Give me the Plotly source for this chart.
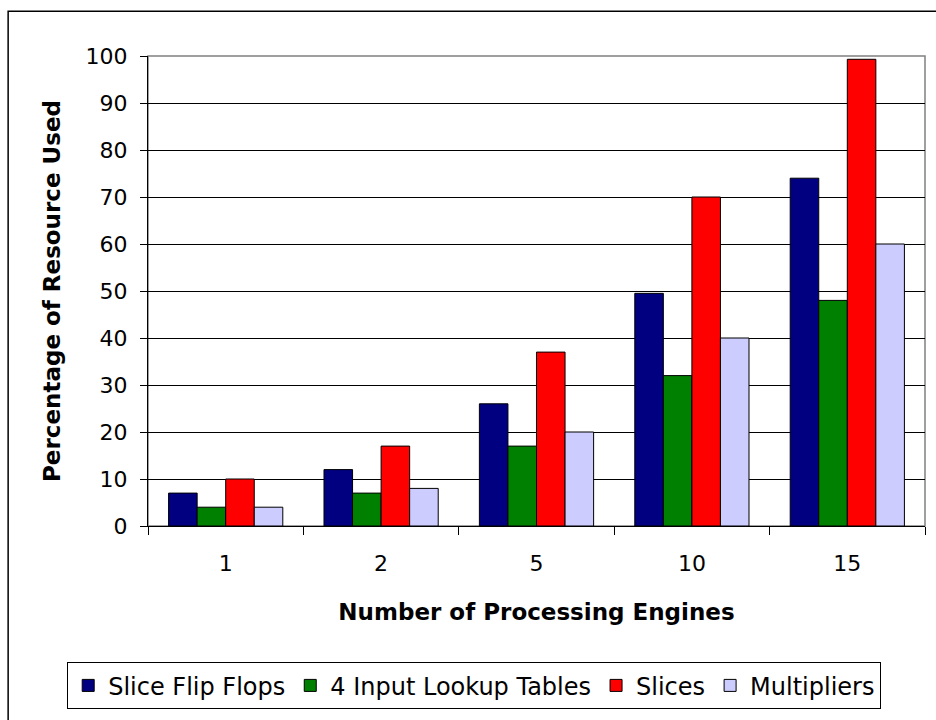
import plotly.graph_objects as go

# Number of processing engines (categories on the x axis)
engines = ["1", "2", "5", "10", "15"]

# Percentage of each FPGA resource used
slice_flip_flops = [7, 12, 26, 49.5, 74]
lookup_tables = [4, 7, 17, 32, 48]
slices = [10, 17, 37, 70, 99.3]
multipliers = [4, 8, 20, 40, 60]

y_ticks = list(range(0, 101, 10))

series = [
    ("Slice Flip Flops", slice_flip_flops, "#000080"),
    ("4 Input Lookup Tables", lookup_tables, "#008000"),
    ("Slices", slices, "#FF0000"),
    ("Multipliers", multipliers, "#CCCCFF"),
]

FONT = "DejaVu Sans"

fig = go.Figure()
for name, vals, color in series:
    fig.add_trace(go.Bar(
        name=name,
        x=engines,
        y=vals,
        marker=dict(color=color, line=dict(color="#000000", width=1)),
    ))

fig.update_layout(
    width=936,
    height=720,
    barmode="group",
    bargap=0.265,
    bargroupgap=0,
    paper_bgcolor="white",
    plot_bgcolor="white",
    margin=dict(l=148, r=11, t=56, b=192),
    font=dict(family=FONT, size=21, color="#000000"),
    showlegend=True,
    legend=dict(
        orientation="h",
        x=-0.104,
        xanchor="left",
        y=-0.29,
        yanchor="top",
        bordercolor="#000000",
        borderwidth=1,
        bgcolor="white",
        font=dict(family=FONT, size=24, color="#000000"),
        itemwidth=30,
        tracegroupgap=0,
    ),
    xaxis=dict(
        type="category",
        tickson="boundaries",
        ticks="outside",
        ticklen=8,
        tickcolor="#000000",
        tickwidth=1,
        showline=True,
        linecolor="#000000",
        linewidth=1,
        showgrid=False,
        tickfont=dict(family=FONT, size=22),
        ticklabelstandoff=18,
        title=dict(
            text="<b>Number of Processing Engines</b>",
            font=dict(family=FONT, size=23),
            standoff=28,
        ),
    ),
    yaxis=dict(
        range=[0, 100],
        tickvals=y_ticks,
        ticks="outside",
        ticklen=7,
        tickcolor="#000000",
        tickwidth=1,
        showline=True,
        linecolor="#000000",
        linewidth=1,
        showgrid=True,
        gridcolor="#000000",
        gridwidth=1,
        zeroline=False,
        tickfont=dict(family=FONT, size=22),
        ticklabelstandoff=8,
        title=dict(
            text="<b>Percentage of Resource Used</b>",
            font=dict(family=FONT, size=23),
            standoff=18,
        ),
    ),
    shapes=[
        # grey frame around the plotting area
        dict(type="rect", xref="paper", yref="paper", x0=0, y0=0, x1=1, y1=1,
             line=dict(color="#808080", width=1.5), layer="below"),
        # outer chart frame
        dict(type="rect", xref="paper", yref="paper", x0=-0.180, y0=-0.6,
             x1=1.2, y1=1.0953, line=dict(color="#000000", width=1.5)),
    ],
)

fig.write_html("out.html")
